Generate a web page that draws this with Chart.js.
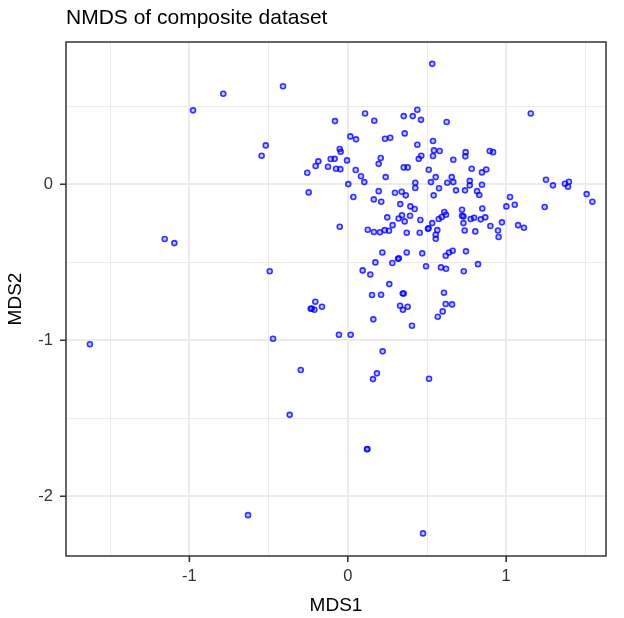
<!DOCTYPE html>
<html>
<head>
<meta charset="utf-8">
<script src="https://cdn.jsdelivr.net/npm/chart.js@4/dist/chart.umd.min.js"></script>
<style>
  html, body { margin: 0; padding: 0; background: #fff; }
  #wrap { width: 624px; height: 618px; position: relative; }
</style>
</head>
<body>
<div id="wrap"><canvas id="nmdsChart"></canvas></div>
<script>
const chartTitle = 'NMDS of composite dataset';

// site scores
const mds1 = [
  -0.786, -0.977, -1.156, -1.095, -1.628, -0.630,
  -0.409, -0.081, 0.109, 0.167, 0.353, 0.359, 0.016, 0.052, 0.235, 0.268,
  0.533, 0.410, 0.439, 0.462, 0.624, 0.538, 1.155,
  -0.518, -0.544, -0.051, -0.045, -0.186, -0.203, -0.108, -0.083, -0.005, -0.125,
  -0.074, -0.047, -0.256, 0.050, 0.083, 0.104, 0.208, 0.195, 0.239, 0.353,
  0.378, 0.003, -0.247, 0.035, 0.195, 0.164, 0.211, 0.298, 0.340, 0.366,
  0.331, 0.249, 0.342, 0.321, 0.359, 0.283, -0.051, 0.126, 0.165, 0.203,
  0.233, 0.260, 0.372,
  0.439, 0.544, 0.580, 0.538, 0.464, 0.448, 0.666, 0.744, 0.742, 0.896,
  0.917, 0.782, 0.511, 0.874, 0.847, 0.555, 0.656, 0.525, 0.628, 0.666,
  0.770, 0.770, 0.426, 0.426, 0.576, 0.683, 0.740, 0.847, 0.816, 0.830,
  0.542, 1.024, 1.001, 1.054, 1.251, 1.295, 1.371, 1.396, 1.390, 1.508,
  1.544, 1.243, 0.395, 0.422, 0.393, 0.458, 0.849, 0.721, 0.609, 0.620,
  0.593, 0.574, 0.721, 0.730, 0.776, 0.797, 0.839, 0.868, 0.730, 0.533,
  0.506, 0.510, 0.900, 0.973, 1.075, 1.112, 0.454, 0.565, 0.738, 0.805,
  0.948,
  0.218, 0.317, 0.322, 0.281, 0.174, 0.372, -0.493, 0.094, 0.142, 0.262,
  0.347, 0.353, 0.153, 0.210, -0.205, -0.234, -0.228, -0.211, -0.163, 0.330,
  0.348, 0.378, 0.161, -0.056, 0.018, -0.472,
  0.555, 0.555, 0.952, 0.470, 0.494, 0.618, 0.639, 0.662, 0.746, 0.588,
  0.620, 0.732, 0.822, 0.607, 0.618, 0.658, 0.599, 0.568, 0.405,
  0.220, -0.297, 0.184, 0.159, 0.513, -0.367, 0.121, 0.124, 0.475
];
const mds2 = [
  0.580, 0.474, -0.351, -0.377, -1.026, -2.121,
  0.628, 0.405, 0.454, 0.407, 0.437, 0.326, 0.307, 0.288, 0.292, 0.298,
  0.772, 0.437, 0.478, 0.413, 0.399, 0.277, 0.454,
  0.249, 0.183, 0.226, 0.208, 0.147, 0.117, 0.162, 0.163, 0.153, 0.112,
  0.099, 0.097, 0.074, 0.091, 0.051, 0.014, 0.168, 0.131, 0.046, 0.108,
  0.108, 0.001, -0.052, -0.082, -0.044, -0.097, -0.112, -0.054, -0.048, -0.071,
  -0.127, -0.212, -0.199, -0.219, -0.238, -0.262, -0.272, -0.292, -0.306, -0.308,
  -0.294, -0.298, -0.311,
  0.253, 0.217, 0.213, 0.181, 0.183, 0.163, 0.157, 0.206, 0.179, 0.213,
  0.206, 0.099, 0.093, 0.095, 0.076, 0.046, 0.046, 0.014, 0.010, 0.014,
  0.022, -0.007, 0.010, -0.024, -0.026, -0.039, -0.039, -0.003, -0.044, -0.069,
  -0.071, -0.082, -0.142, -0.131, 0.029, -0.007, 0.003, 0.016, -0.016, -0.063,
  -0.112, -0.146, -0.142, -0.159, -0.202, -0.229, -0.155, -0.163, -0.178, -0.195,
  -0.210, -0.223, -0.202, -0.206, -0.223, -0.215, -0.225, -0.212, -0.249, -0.249,
  -0.285, -0.282, -0.268, -0.244, -0.262, -0.279, -0.311, -0.294, -0.296, -0.302,
  -0.296,
  -0.437, -0.478, -0.475, -0.505, -0.501, -0.437, -0.558, -0.552, -0.578, -0.640,
  -0.700, -0.700, -0.710, -0.708, -0.753, -0.798, -0.796, -0.804, -0.785, -0.779,
  -0.804, -0.785, -0.866, -0.965, -0.965, -0.990,
  -0.324, -0.349, -0.338, -0.443, -0.526, -0.458, -0.437, -0.426, -0.430, -0.533,
  -0.542, -0.558, -0.512, -0.695, -0.768, -0.770, -0.815, -0.849, -0.907,
  -1.071, -1.191, -1.212, -1.249, -1.247, -1.478, -1.699, -1.697, -2.238
];

const xTicks = [-1.5, -1, -0.5, 0, 0.5, 1, 1.5];
const yTicks = [-2, -1.5, -1, -0.5, 0, 0.5];
const xLimits = [-1.779, 1.630];
const yLimits = [-2.383, 0.912];

const font = "'Liberation Sans', Arial, Helvetica, sans-serif";
const isMajor = (v) => Number.isInteger(v);

// ggplot-like panel border, outside tick marks and left aligned title
const panelPlugin = {
  id: 'panel',
  afterDatasetsDraw(chart) {
    const { ctx, chartArea: a, scales } = chart;
    ctx.save();
    ctx.strokeStyle = '#333333';
    ctx.lineWidth = 1.6;
    ctx.beginPath();
    xTicks.filter(isMajor).forEach((v) => {
      const px = scales.x.getPixelForValue(v);
      ctx.moveTo(px, a.bottom);
      ctx.lineTo(px, a.bottom + 6);
    });
    yTicks.filter(isMajor).forEach((v) => {
      const py = scales.y.getPixelForValue(v);
      ctx.moveTo(a.left - 6, py);
      ctx.lineTo(a.left, py);
    });
    ctx.stroke();
    ctx.lineWidth = 1.5;
    ctx.strokeRect(a.left, a.top, a.right - a.left, a.bottom - a.top);
    ctx.fillStyle = '#000';
    ctx.font = '21px ' + font;
    ctx.textBaseline = 'alphabetic';
    ctx.fillText(chartTitle, a.left, 24);
    ctx.restore();
  },
};

const gridFor = () => ({
  color: '#ebebeb',
  lineWidth: (c) => (isMajor(c.tick.value) ? 2 : 1),
  drawTicks: true,
  tickColor: 'rgba(0,0,0,0)',
  tickLength: 6,
});

new Chart('nmdsChart', {
  type: 'scatter',
  data: {
    datasets: [
      {
        data: mds1.map((x, i) => ({ x: x, y: mds2[i] })),
        pointRadius: 2.5,
        pointHoverRadius: 2.5,
        borderWidth: 1.6,
        borderColor: 'rgba(0, 0, 255, 0.78)',
        backgroundColor: 'rgba(0, 0, 255, 0.22)',
      },
    ],
  },
  options: {
    responsive: true,
    maintainAspectRatio: false,
    animation: false,
    layout: { padding: { left: 0, right: 18, top: 42, bottom: 0 } },
    plugins: { legend: { display: false }, tooltip: { enabled: false } },
    scales: {
      x: {
        type: 'linear',
        min: xLimits[0],
        max: xLimits[1],
        afterBuildTicks: (s) => { s.ticks = xTicks.map((v) => ({ value: v })); },
        afterFit: (s) => { s.height = 62; },
        grid: gridFor(),
        border: { display: false },
        ticks: {
          padding: 5,
          color: '#333333',
          font: { family: font, size: 16.5 },
          callback: (v) => (isMajor(v) ? String(v) : ''),
        },
        title: {
          display: true,
          text: 'MDS1',
          color: '#000',
          font: { family: font, size: 19 },
          padding: { top: 0, bottom: 1 },
        },
      },
      y: {
        type: 'linear',
        min: yLimits[0],
        max: yLimits[1],
        afterBuildTicks: (s) => { s.ticks = yTicks.map((v) => ({ value: v })); },
        afterFit: (s) => { s.width = 66; },
        grid: gridFor(),
        border: { display: false },
        ticks: {
          padding: 7,
          color: '#333333',
          font: { family: font, size: 16.5 },
          callback: (v) => (isMajor(v) ? String(v) : ''),
        },
        title: {
          display: true,
          text: 'MDS2',
          color: '#000',
          font: { family: font, size: 19 },
          padding: { top: 4, bottom: 0 },
        },
      },
    },
  },
  plugins: [panelPlugin],
});
</script>
</body>
</html>
